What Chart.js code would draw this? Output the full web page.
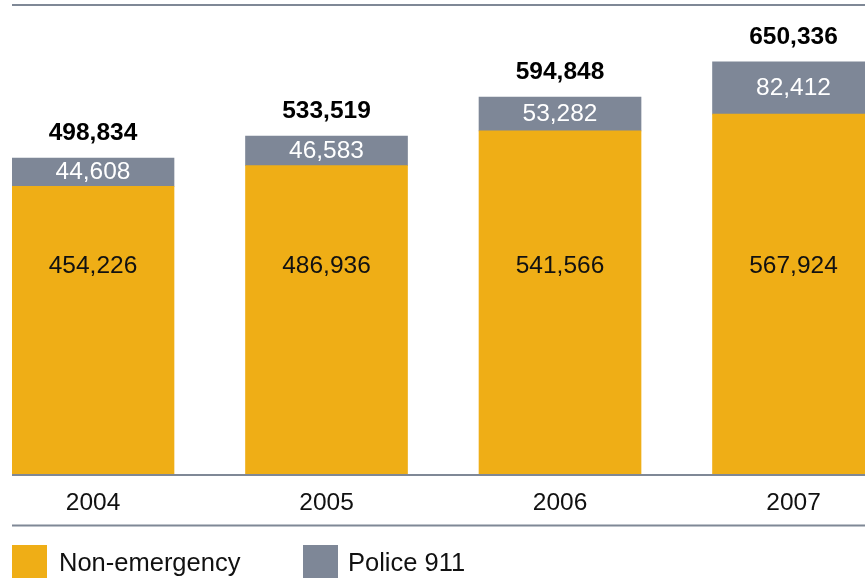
<!DOCTYPE html>
<html>
<head>
<meta charset="utf-8">
<script src="https://cdn.jsdelivr.net/npm/chart.js@4/dist/chart.umd.min.js"></script>
<style>
  html, body { margin: 0; padding: 0; background: #fff; overflow: hidden; }
  #wrap { position: relative; width: 865px; height: 578px; overflow: hidden; }
  #c { position: absolute; left: 0; top: 0; }
  .lg { position: absolute; top: 545px; height: 35px; display: flex; align-items: center;
        font-family: 'Liberation Sans', Arial, Helvetica, sans-serif; font-size: 25.5px; color: #111; }
  .sw { width: 35px; height: 35px; margin-right: 12px; }
</style>
</head>
<body>
<div id="wrap">
  <canvas id="c" width="865" height="578"></canvas>
  <div class="lg" style="left:12px"><div class="sw" style="background:#EFAE16"></div><span>Non-emergency</span></div>
  <div class="lg" style="left:303px"><div class="sw" style="background:#7E8797;margin-right:10px"></div><span>Police 911</span></div>
</div>
<script>
const years = [2004, 2005, 2006, 2007];
const nonEmergency = [454226, 486936, 541566, 567924];
const police911 = [44608, 46583, 53282, 82412];
const totals = [498834, 533519, 594848, 650336];

const YELLOW = '#EFAE16';
const GRAY = '#7E8797';
const LINE = '#7F8896';
const FONT = "'Liberation Sans', Arial, Helvetica, sans-serif";

const fmt = v => v.toLocaleString('en-US');

const labelPlugin = {
  id: 'segLabels',
  afterDatasetsDraw(chart) {
    const ctx = chart.ctx;
    const m0 = chart.getDatasetMeta(0);
    const m1 = chart.getDatasetMeta(1);
    ctx.save();
    ctx.textAlign = 'center';
    m0.data.forEach((el, i) => {
      ctx.font = '24.5px ' + FONT;
      ctx.fillStyle = '#111';
      ctx.textBaseline = 'middle';
      ctx.fillText(fmt(nonEmergency[i]), el.x, chart.chartArea.top + 261);
    });
    m1.data.forEach((el, i) => {
      ctx.font = '24.5px ' + FONT;
      ctx.fillStyle = '#fff';
      ctx.textBaseline = 'middle';
      ctx.fillText(fmt(police911[i]), el.x, (el.y + el.base) / 2);
      ctx.font = 'bold 24.5px ' + FONT;
      ctx.fillStyle = '#000';
      ctx.textBaseline = 'alphabetic';
      ctx.fillText(fmt(totals[i]), el.x, el.y - 18);
    });
    // rule under the year labels
    const a = chart.chartArea;
    ctx.strokeStyle = LINE;
    ctx.lineWidth = 2;
    ctx.beginPath();
    ctx.moveTo(a.left, a.bottom + 51);
    ctx.lineTo(chart.width, a.bottom + 51);
    ctx.stroke();
    ctx.restore();
  }
};

new Chart(document.getElementById('c'), {
  type: 'bar',
  data: {
    datasets: [
      { label: 'Non-emergency', data: years.map((y, i) => ({ x: y, y: nonEmergency[i] })),
        backgroundColor: YELLOW, barThickness: 162, borderWidth: 0 },
      { label: 'Police 911', data: years.map((y, i) => ({ x: y, y: police911[i] })),
        backgroundColor: GRAY, barThickness: 162, borderWidth: 0 }
    ]
  },
  options: {
    responsive: false,
    animation: false,
    devicePixelRatio: 1,
    layout: { padding: { left: 12, right: 0, top: 5, bottom: 46 } },
    plugins: { legend: { display: false }, tooltip: { enabled: false } },
    scales: {
      x: {
        type: 'linear',
        stacked: true,
        offset: false,
        min: 2003.6531,
        max: 2007.3061,
        grid: { display: false, drawTicks: false },
        border: { display: false },
        afterBuildTicks: s => { s.ticks = years.map(v => ({ value: v })); },
        ticks: {
          padding: 14,
          color: '#111',
          font: { family: FONT, size: 24.5 },
          callback: v => String(v),
          autoSkip: false,
          maxRotation: 0
        }
      },
      y: {
        stacked: true,
        min: 0,
        max: 740000,
        afterBuildTicks: s => { s.ticks = [{ value: 0 }, { value: 740000 }]; },
        grid: { color: LINE, lineWidth: 2, drawTicks: false },
        border: { display: false },
        ticks: { display: false }
      }
    }
  },
  plugins: [labelPlugin]
});
</script>
</body>
</html>
